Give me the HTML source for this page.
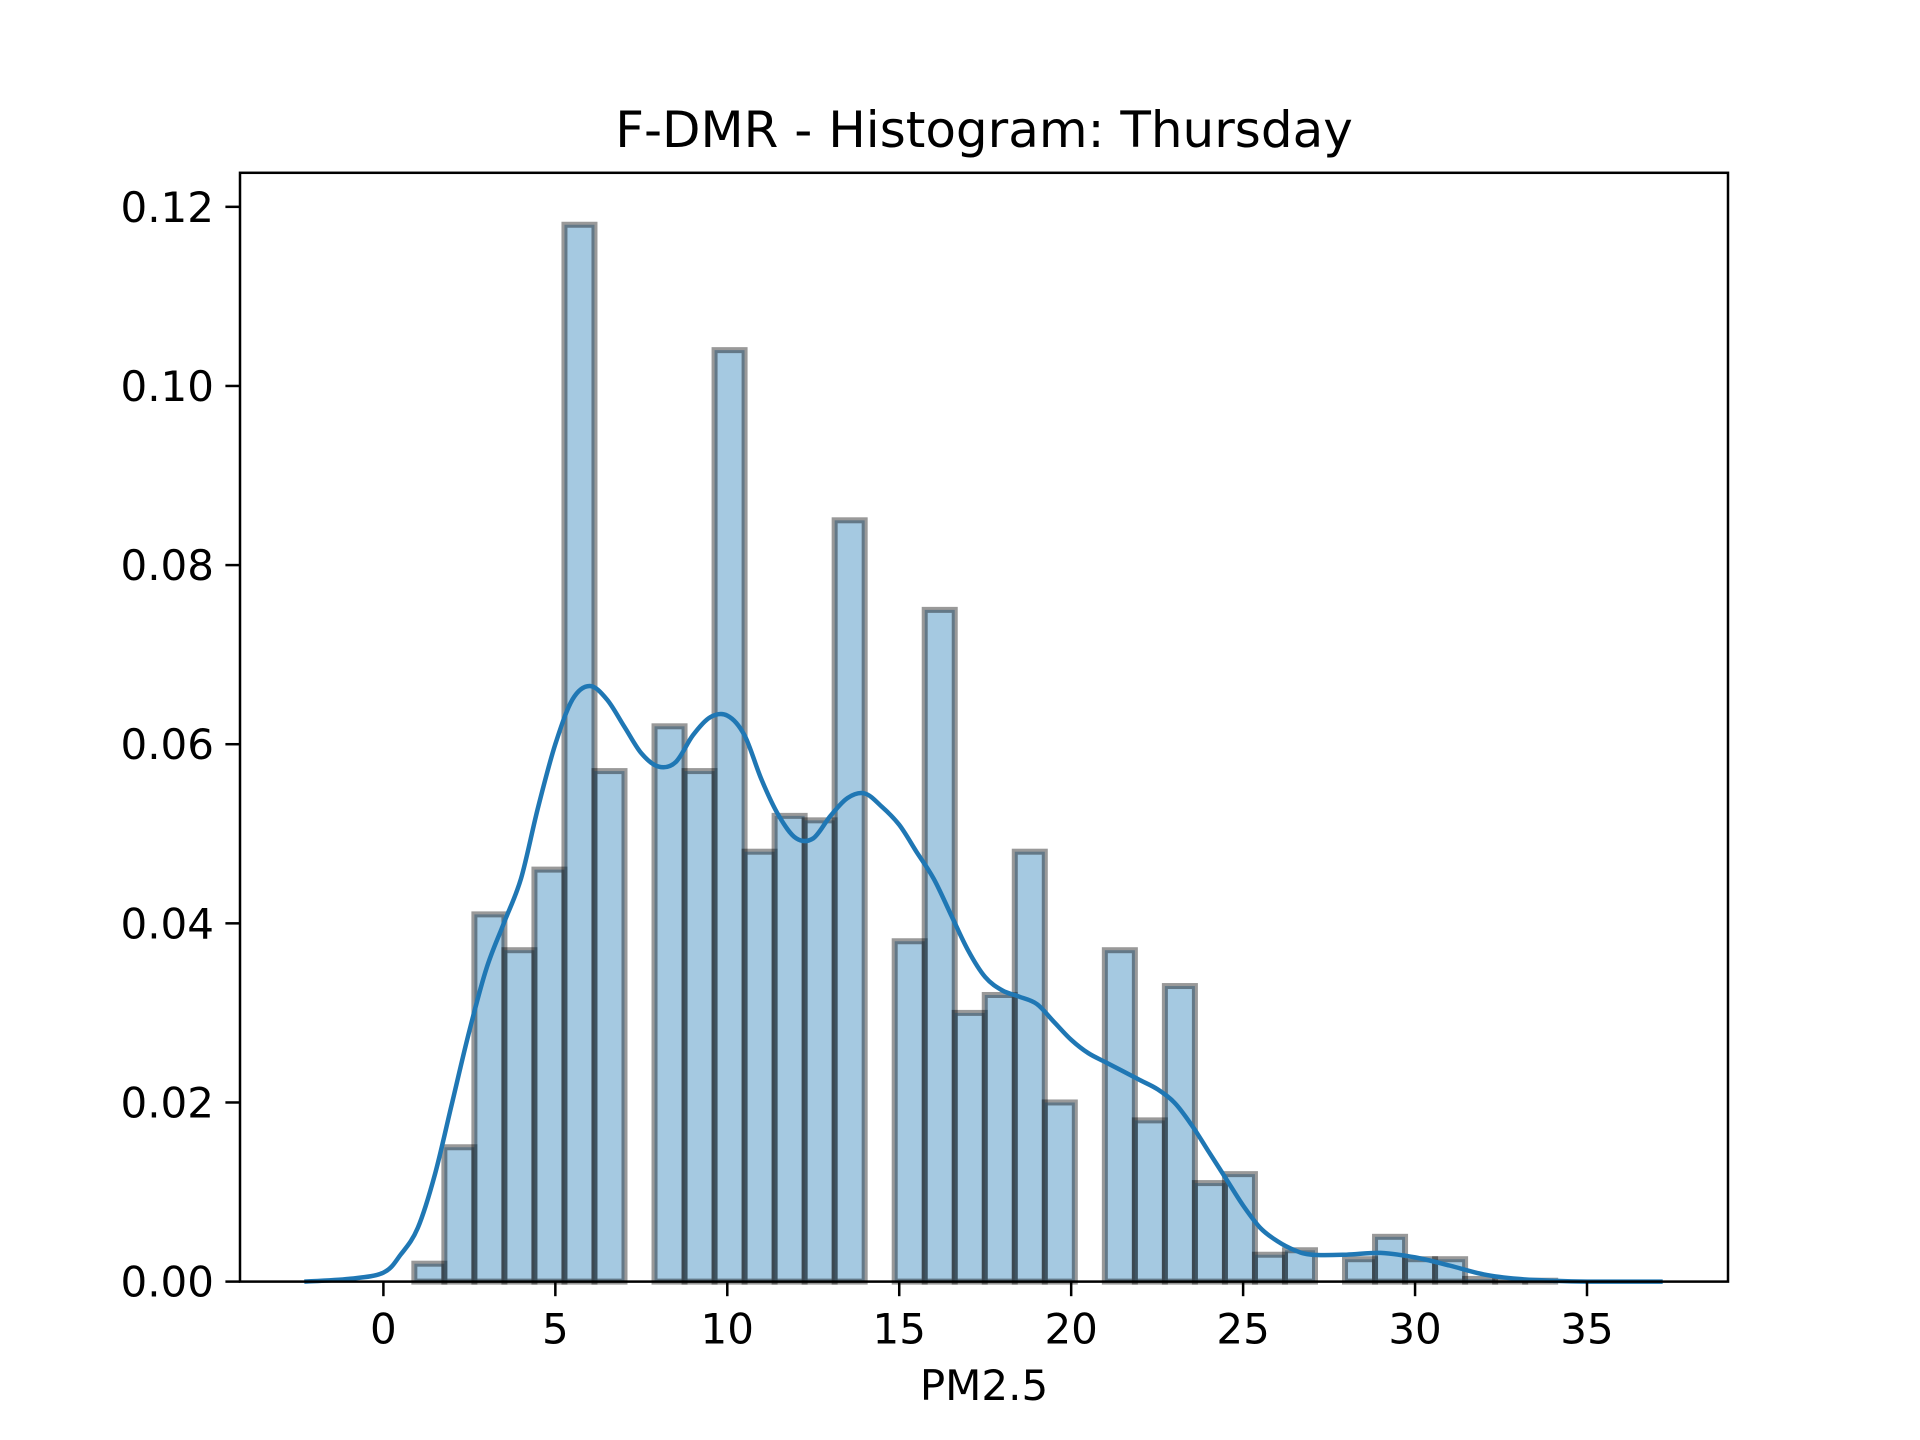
<!DOCTYPE html>
<html><head><meta charset="utf-8"><style>
html,body{margin:0;padding:0;background:#fff;}
svg{display:block;font-family:"DejaVu Sans","Liberation Sans",sans-serif;}
</style></head><body>
<svg id="chart" width="1920" height="1440" viewBox="0 0 1920 1440" xmlns="http://www.w3.org/2000/svg">
<rect x="0" y="0" width="1920" height="1440" fill="#fff"/>
<g id="bars"></g>
<g id="kde"></g>
<g id="xaxis"></g>
<g id="yaxis"></g>
<rect x="240" y="172.8" width="1488" height="1108.8" fill="none" stroke="#000" stroke-width="2.5"/>
<text x="984" y="147" font-size="50" text-anchor="middle">F-DMR - Histogram: Thursday</text>
<text x="984" y="1400" font-size="42" text-anchor="middle">PM2.5</text>
</svg>
<script>
const binStart = 0.9;
const binWidth = 0.873;
const binHeights = [0.002,0.015,0.041,0.037,0.046,0.118,0.057,0,0.062,0.057,0.104,0.048,0.052,0.0515,0.085,0,0.038,0.075,0.030,0.032,0.048,0.020,0,0.037,0.018,0.033,0.011,0.012,0.003,0.0035,0,0.0025,0.005,0.0025,0.0025,0.0003,0.0001,0.0001];
const kdeX = [-2.3,-1,0,0.5,1,1.5,2,2.5,3,3.5,4,4.5,5,5.5,6,6.5,7,7.5,8,8.5,9,9.5,10,10.5,11,11.5,12,12.5,13,13.5,14,14.5,15,15.5,16,16.5,17,17.5,18,18.5,19,19.5,20,20.5,21,21.5,22,22.5,23,23.5,24,24.5,25,25.5,26,26.5,27,28,29,30,31,32,33,34,35,37.2];
const kdeY = [0,0.0003,0.001,0.003,0.006,0.012,0.02,0.028,0.035,0.04,0.045,0.053,0.06,0.065,0.0665,0.065,0.062,0.059,0.0575,0.058,0.061,0.063,0.0632,0.061,0.056,0.052,0.0495,0.0495,0.052,0.054,0.0545,0.053,0.051,0.048,0.045,0.041,0.037,0.034,0.0325,0.0318,0.031,0.029,0.027,0.0255,0.0245,0.0235,0.0225,0.0215,0.02,0.0175,0.0145,0.0115,0.0085,0.006,0.0045,0.0035,0.003,0.003,0.0032,0.0027,0.0018,0.0008,0.0003,0.0001,0,0];
const xTicks = [0,5,10,15,20,25,30,35];
const yTicks = [0,0.02,0.04,0.06,0.08,0.10,0.12];
const yTickLabels = ["0.00","0.02","0.04","0.06","0.08","0.10","0.12"];

const NS="http://www.w3.org/2000/svg";
const L=240,R=1728,T=172.8,B=1281.6;
const xMin=-4.17,xMax=39.1,yMax=0.1238;
function sx(v){return L+(v-xMin)/(xMax-xMin)*(R-L);}
function sy(v){return B-v/yMax*(B-T);}
function mk(tag,attrs,parent){const e=document.createElementNS(NS,tag);for(const k in attrs)e.setAttribute(k,attrs[k]);parent.appendChild(e);return e;}

const gb=document.getElementById('bars');
binHeights.forEach((h,i)=>{
  const x0=sx(binStart+i*binWidth),x1=sx(binStart+(i+1)*binWidth);
  const r=mk('rect',{x:x0,y:sy(h),width:x1-x0,height:B-sy(h),fill:'rgba(31,119,180,0.4)',stroke:'rgba(0,0,0,0.4)','stroke-width':6},gb);
  
  
});

const gk=document.getElementById('kde');
const P=kdeX.map((x,i)=>[sx(x),sy(kdeY[i])]);
let d='M'+P[0][0].toFixed(1)+','+P[0][1].toFixed(1);
for(let i=0;i<P.length-1;i++){
  const p0=P[Math.max(0,i-1)],p1=P[i],p2=P[i+1],p3=P[Math.min(P.length-1,i+2)];
  const c1=[p1[0]+(p2[0]-p0[0])/6,p1[1]+(p2[1]-p0[1])/6];
  const c2=[p2[0]-(p3[0]-p1[0])/6,p2[1]-(p3[1]-p1[1])/6];
  d+=' C'+c1[0].toFixed(1)+','+c1[1].toFixed(1)+' '+c2[0].toFixed(1)+','+c2[1].toFixed(1)+' '+p2[0].toFixed(1)+','+p2[1].toFixed(1);
}
const pl=mk('path',{d:d,fill:'none',stroke:'#1f77b4','stroke-width':4.5,'stroke-linejoin':'round'},gk);



const gx=document.getElementById('xaxis');
xTicks.forEach(t=>{
  const x=sx(t);
  const tk=mk('line',{x1:x,x2:x,y1:B,y2:B+14.6,stroke:'#000','stroke-width':2.5},gx);
  
  
  const tx=mk('text',{x:x,y:B+62,'font-size':42,'text-anchor':'middle'},gx);
  tx.textContent=String(t);
  
  
});
const gy=document.getElementById('yaxis');
yTicks.forEach((t,i)=>{
  const y=sy(t);
  const tk=mk('line',{x1:L-14.6,x2:L,y1:y,y2:y,stroke:'#000','stroke-width':2.5},gy);
  
  
  const tx=mk('text',{x:L-26,y:y+15,'font-size':42,'text-anchor':'end'},gy);
  tx.textContent=yTickLabels[i];
  
  
});
</script>
</body></html>
